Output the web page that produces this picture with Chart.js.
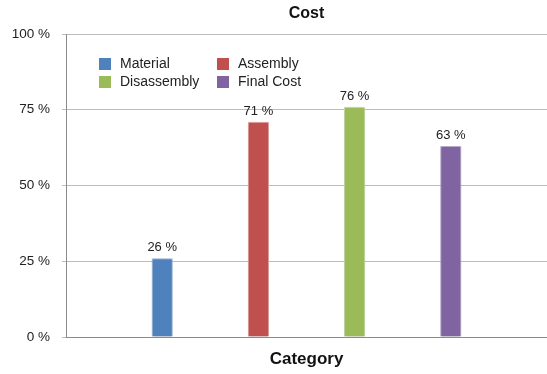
<!DOCTYPE html>
<html>
<head>
<meta charset="utf-8">
<script src="https://cdn.jsdelivr.net/npm/chart.js@4"></script>
<style>
  html, body { margin: 0; padding: 0; background: #fff; }
  #wrap { width: 547px; height: 374px; }
</style>
</head>
<body>
<div id="wrap"><canvas id="costChart"></canvas></div>
<script>
// chart data
var seriesNames = ['Material', 'Assembly', 'Disassembly', 'Final Cost'];
var seriesValues = [26, 71, 76, 63];
var seriesColors = ['#4F81BD', '#C0504D', '#9BBB59', '#8064A2'];
var seriesEdges = ['#a9c4e6', '#eaa5a3', '#cde0a8', '#c0b0d6'];
var yTicks = [0, 25, 50, 75, 100];

var fontFamily = '"Liberation Sans", Arial, Helvetica, sans-serif';

var datasets = [];
seriesNames.forEach(function(name, i) {
    datasets.push({
        label: name,
        data: [seriesValues[i]],
        backgroundColor: seriesColors[i],
        borderColor: seriesEdges[i],
        borderWidth: 1,
        categoryPercentage: 0.8,
        barPercentage: 0.22
    });
});

// title, legend, value labels and bar shadow drawn by hand
var extras = {
    id: 'extras',
    beforeDatasetsDraw: function(chart) {
        var ctx = chart.ctx;
        ctx.save();
        ctx.shadowColor = 'rgba(0,0,0,0.28)';
        ctx.shadowBlur = 3;
        ctx.shadowOffsetX = 0;
        ctx.shadowOffsetY = 1;
    },
    afterDatasetsDraw: function(chart) {
        var ctx = chart.ctx;
        ctx.restore();
        var area = chart.chartArea;

        // title
        ctx.save();
        ctx.fillStyle = '#111';
        ctx.font = 'bold 16px ' + fontFamily;
        ctx.textAlign = 'center';
        ctx.textBaseline = 'middle';
        ctx.fillText('Cost', (area.left + area.right) / 2, 14);

        // values above bars
        ctx.font = '13px ' + fontFamily;
        ctx.textBaseline = 'bottom';
        ctx.fillStyle = '#222';
        chart.data.datasets.forEach(function(ds, i) {
            var bar = chart.getDatasetMeta(i).data[0];
            ctx.fillText(ds.data[0] + ' %', bar.x, bar.y - 4);
        });

        // legend, two columns
        ctx.font = '14px ' + fontFamily;
        ctx.textAlign = 'left';
        ctx.textBaseline = 'middle';
        var colX = [99, 217];
        var rowY = [58, 76];
        seriesNames.forEach(function(name, i) {
            var x = colX[i % 2];
            var y = rowY[Math.floor(i / 2)];
            ctx.fillStyle = seriesColors[i];
            ctx.fillRect(x, y, 12, 12);
            ctx.fillStyle = '#222';
            ctx.fillText(name, x + 21, y + 6.5);
        });
        ctx.restore();
    }
};

var ctx = document.getElementById('costChart').getContext('2d');
var costChart = new Chart(ctx, {
    type: 'bar',
    data: {
        labels: [''],
        datasets: datasets
    },
    options: {
        responsive: true,
        maintainAspectRatio: false,
        animation: false,
        layout: {
            padding: { top: 34, left: 0, right: 0, bottom: 0 }
        },
        plugins: {
            legend: { display: false },
            title: { display: false },
            tooltip: { enabled: false }
        },
        scales: {
            x: {
                grid: { display: false },
                border: { display: true, color: '#8a8a8a', width: 1 },
                ticks: { display: false },
                title: {
                    display: true,
                    text: 'Category',
                    color: '#111',
                    font: { family: fontFamily, size: 17, weight: 'bold' },
                    padding: { top: 0, bottom: 4 }
                },
                afterFit: function(scale) { scale.height = 37; }
            },
            y: {
                min: 0,
                max: 100,
                afterBuildTicks: function(scale) {
                    scale.ticks = yTicks.map(function(v) { return { value: v }; });
                },
                grid: { color: '#bcbcbc', tickLength: 4, drawTicks: true },
                border: { display: true, color: '#8a8a8a', width: 1 },
                ticks: {
                    padding: 12,
                    color: '#222',
                    font: { family: fontFamily, size: 13.5 },
                    callback: function(v) { return v + ' %'; }
                },
                afterFit: function(scale) { scale.width = 66; }
            }
        }
    },
    plugins: [extras]
});
</script>
</body>
</html>
